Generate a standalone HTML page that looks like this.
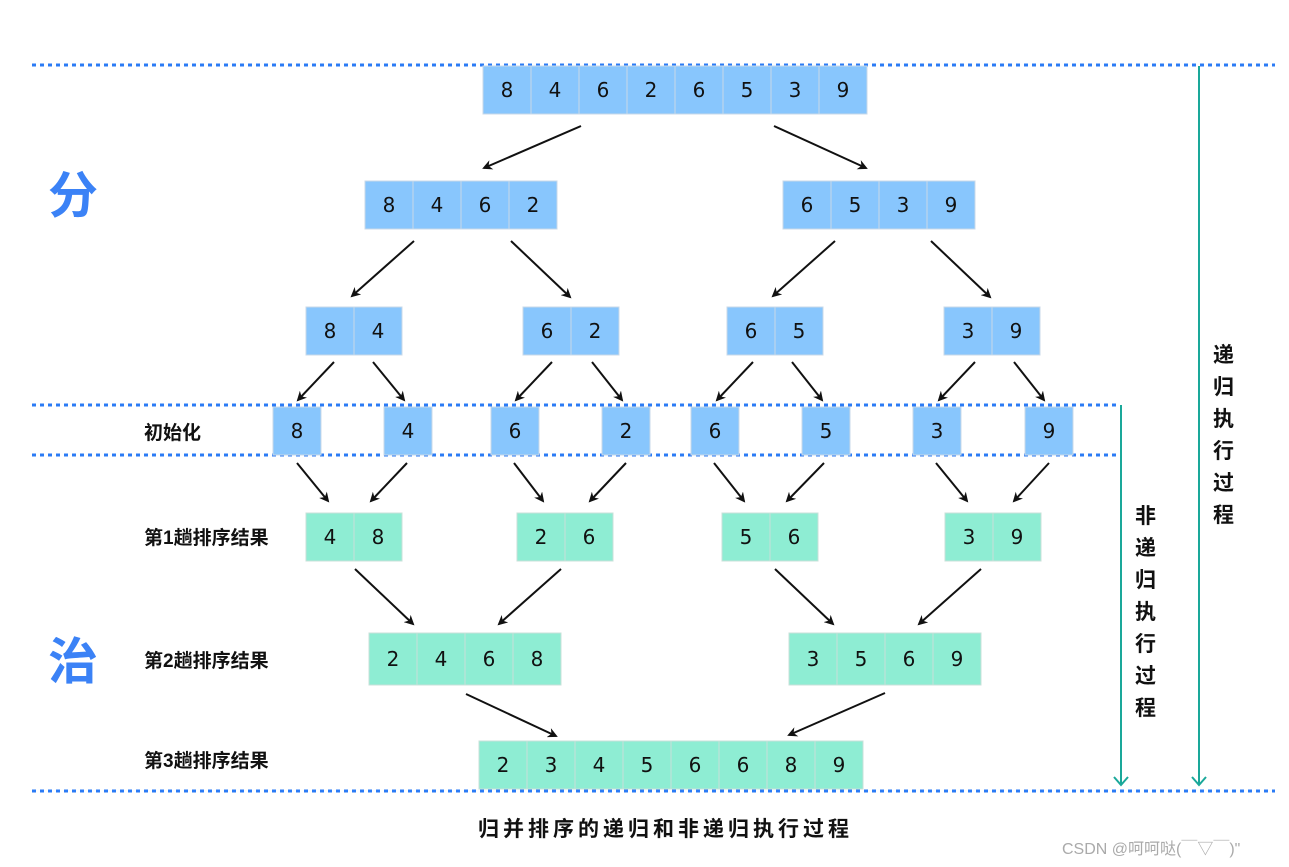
<!DOCTYPE html>
<html><head><meta charset="utf-8"><style>
html,body{margin:0;padding:0;background:#fff;}
svg{display:block;}
.n{font-family:"DejaVu Sans","Liberation Sans",sans-serif;font-size:20px;fill:#111;text-anchor:middle;dominant-baseline:central;}
.l{font-family:"Liberation Sans","Noto Sans CJK SC",sans-serif;font-size:19px;font-weight:bold;fill:#111;}
.c{font-family:"Noto Sans CJK SC",sans-serif;fill:#111;}
.b{fill:#88c6fd;stroke:#c8d8e8;stroke-width:1;}
.g{fill:#8eedd3;stroke:#c8e0d8;stroke-width:1;}
.d{stroke:#2b7bf5;stroke-width:3;stroke-dasharray:4 4;fill:none;}
.a{stroke:#111;stroke-width:2;fill:none;marker-end:url(#ar);}
.t{stroke:#1aa89a;stroke-width:2;fill:none;}
</style></head><body>
<svg width="1289" height="867" viewBox="0 0 1289 867" xmlns="http://www.w3.org/2000/svg">
<defs><marker id="ar" markerWidth="10" markerHeight="10" refX="8" refY="5" orient="auto" markerUnits="userSpaceOnUse" viewBox="0 0 10 10"><path d="M0,0 L10,5 L0,10 L3,5 Z" fill="#111"/></marker></defs>

<line class="d" x1="32" y1="65" x2="1275" y2="65"/>
<line class="d" x1="32" y1="405" x2="1120" y2="405"/>
<line class="d" x1="32" y1="455" x2="1120" y2="455"/>
<line class="d" x1="32" y1="791" x2="1275" y2="791"/>

<!-- teal arrows -->
<line class="t" x1="1121" y1="405" x2="1121" y2="785"/>
<path class="t" d="M1114,777 L1121,785 L1128,777"/>
<line class="t" x1="1199" y1="66" x2="1199" y2="785"/>
<path class="t" d="M1192,777 L1199,785 L1206,777"/>

<!-- row 1 -->
<g>
<rect class="b" x="483" y="66" width="48" height="48"/><text class="n" x="507" y="90">8</text>
<rect class="b" x="531" y="66" width="48" height="48"/><text class="n" x="555" y="90">4</text>
<rect class="b" x="579" y="66" width="48" height="48"/><text class="n" x="603" y="90">6</text>
<rect class="b" x="627" y="66" width="48" height="48"/><text class="n" x="651" y="90">2</text>
<rect class="b" x="675" y="66" width="48" height="48"/><text class="n" x="699" y="90">6</text>
<rect class="b" x="723" y="66" width="48" height="48"/><text class="n" x="747" y="90">5</text>
<rect class="b" x="771" y="66" width="48" height="48"/><text class="n" x="795" y="90">3</text>
<rect class="b" x="819" y="66" width="48" height="48"/><text class="n" x="843" y="90">9</text>
</g>
<!-- row 2 -->
<rect class="b" x="365" y="181" width="48" height="48"/><text class="n" x="389" y="205">8</text>
<rect class="b" x="413" y="181" width="48" height="48"/><text class="n" x="437" y="205">4</text>
<rect class="b" x="461" y="181" width="48" height="48"/><text class="n" x="485" y="205">6</text>
<rect class="b" x="509" y="181" width="48" height="48"/><text class="n" x="533" y="205">2</text>
<rect class="b" x="783" y="181" width="48" height="48"/><text class="n" x="807" y="205">6</text>
<rect class="b" x="831" y="181" width="48" height="48"/><text class="n" x="855" y="205">5</text>
<rect class="b" x="879" y="181" width="48" height="48"/><text class="n" x="903" y="205">3</text>
<rect class="b" x="927" y="181" width="48" height="48"/><text class="n" x="951" y="205">9</text>
<!-- row 3 -->
<rect class="b" x="306" y="307" width="48" height="48"/><text class="n" x="330" y="331">8</text>
<rect class="b" x="354" y="307" width="48" height="48"/><text class="n" x="378" y="331">4</text>
<rect class="b" x="523" y="307" width="48" height="48"/><text class="n" x="547" y="331">6</text>
<rect class="b" x="571" y="307" width="48" height="48"/><text class="n" x="595" y="331">2</text>
<rect class="b" x="727" y="307" width="48" height="48"/><text class="n" x="751" y="331">6</text>
<rect class="b" x="775" y="307" width="48" height="48"/><text class="n" x="799" y="331">5</text>
<rect class="b" x="944" y="307" width="48" height="48"/><text class="n" x="968" y="331">3</text>
<rect class="b" x="992" y="307" width="48" height="48"/><text class="n" x="1016" y="331">9</text>
<!-- init -->
<rect class="b" x="273" y="407" width="48" height="48"/><text class="n" x="297" y="431">8</text>
<rect class="b" x="384" y="407" width="48" height="48"/><text class="n" x="408" y="431">4</text>
<rect class="b" x="491" y="407" width="48" height="48"/><text class="n" x="515" y="431">6</text>
<rect class="b" x="602" y="407" width="48" height="48"/><text class="n" x="626" y="431">2</text>
<rect class="b" x="691" y="407" width="48" height="48"/><text class="n" x="715" y="431">6</text>
<rect class="b" x="802" y="407" width="48" height="48"/><text class="n" x="826" y="431">5</text>
<rect class="b" x="913" y="407" width="48" height="48"/><text class="n" x="937" y="431">3</text>
<rect class="b" x="1025" y="407" width="48" height="48"/><text class="n" x="1049" y="431">9</text>
<!-- sorted 1 -->
<rect class="g" x="306" y="513" width="48" height="48"/><text class="n" x="330" y="537">4</text>
<rect class="g" x="354" y="513" width="48" height="48"/><text class="n" x="378" y="537">8</text>
<rect class="g" x="517" y="513" width="48" height="48"/><text class="n" x="541" y="537">2</text>
<rect class="g" x="565" y="513" width="48" height="48"/><text class="n" x="589" y="537">6</text>
<rect class="g" x="722" y="513" width="48" height="48"/><text class="n" x="746" y="537">5</text>
<rect class="g" x="770" y="513" width="48" height="48"/><text class="n" x="794" y="537">6</text>
<rect class="g" x="945" y="513" width="48" height="48"/><text class="n" x="969" y="537">3</text>
<rect class="g" x="993" y="513" width="48" height="48"/><text class="n" x="1017" y="537">9</text>
<!-- sorted 2 -->
<rect class="g" x="369" y="633" width="48" height="52"/><text class="n" x="393" y="659">2</text>
<rect class="g" x="417" y="633" width="48" height="52"/><text class="n" x="441" y="659">4</text>
<rect class="g" x="465" y="633" width="48" height="52"/><text class="n" x="489" y="659">6</text>
<rect class="g" x="513" y="633" width="48" height="52"/><text class="n" x="537" y="659">8</text>
<rect class="g" x="789" y="633" width="48" height="52"/><text class="n" x="813" y="659">3</text>
<rect class="g" x="837" y="633" width="48" height="52"/><text class="n" x="861" y="659">5</text>
<rect class="g" x="885" y="633" width="48" height="52"/><text class="n" x="909" y="659">6</text>
<rect class="g" x="933" y="633" width="48" height="52"/><text class="n" x="957" y="659">9</text>
<!-- sorted 3 -->
<rect class="g" x="479" y="741" width="48" height="48"/><text class="n" x="503" y="765">2</text>
<rect class="g" x="527" y="741" width="48" height="48"/><text class="n" x="551" y="765">3</text>
<rect class="g" x="575" y="741" width="48" height="48"/><text class="n" x="599" y="765">4</text>
<rect class="g" x="623" y="741" width="48" height="48"/><text class="n" x="647" y="765">5</text>
<rect class="g" x="671" y="741" width="48" height="48"/><text class="n" x="695" y="765">6</text>
<rect class="g" x="719" y="741" width="48" height="48"/><text class="n" x="743" y="765">6</text>
<rect class="g" x="767" y="741" width="48" height="48"/><text class="n" x="791" y="765">8</text>
<rect class="g" x="815" y="741" width="48" height="48"/><text class="n" x="839" y="765">9</text>

<!-- arrows -->
<line class="a" x1="581" y1="126" x2="484" y2="168"/>
<line class="a" x1="774" y1="126" x2="866" y2="168"/>
<line class="a" x1="414" y1="241" x2="352" y2="296"/>
<line class="a" x1="511" y1="241" x2="570" y2="297"/>
<line class="a" x1="835" y1="241" x2="773" y2="296"/>
<line class="a" x1="931" y1="241" x2="990" y2="297"/>
<line class="a" x1="334" y1="362" x2="298" y2="400"/>
<line class="a" x1="373" y1="362" x2="404" y2="400"/>
<line class="a" x1="552" y1="362" x2="516" y2="400"/>
<line class="a" x1="592" y1="362" x2="622" y2="400"/>
<line class="a" x1="753" y1="362" x2="717" y2="400"/>
<line class="a" x1="792" y1="362" x2="822" y2="400"/>
<line class="a" x1="975" y1="362" x2="939" y2="400"/>
<line class="a" x1="1014" y1="362" x2="1044" y2="400"/>
<line class="a" x1="297" y1="463" x2="328" y2="501"/>
<line class="a" x1="407" y1="463" x2="371" y2="501"/>
<line class="a" x1="514" y1="463" x2="543" y2="501"/>
<line class="a" x1="626" y1="463" x2="590" y2="501"/>
<line class="a" x1="714" y1="463" x2="744" y2="501"/>
<line class="a" x1="824" y1="463" x2="787" y2="501"/>
<line class="a" x1="936" y1="463" x2="967" y2="501"/>
<line class="a" x1="1049" y1="463" x2="1014" y2="501"/>
<line class="a" x1="355" y1="569" x2="413" y2="624"/>
<line class="a" x1="561" y1="569" x2="499" y2="624"/>
<line class="a" x1="775" y1="569" x2="833" y2="624"/>
<line class="a" x1="981" y1="569" x2="919" y2="624"/>
<line class="a" x1="466" y1="694" x2="556" y2="736"/>
<line class="a" x1="885" y1="693" x2="789" y2="735"/>

<!-- labels -->
<text class="l" x="144" y="439">初始化</text>
<text class="l" x="144" y="544">第1趟排序结果</text>
<text class="l" x="144" y="667">第2趟排序结果</text>
<text class="l" x="144" y="767">第3趟排序结果</text>

<text class="c" x="48" y="213" font-size="50" fill="#3b82f6" style="fill:#3b82f6;font-weight:bold">分</text>
<text class="c" x="48" y="679" font-size="50" style="fill:#3b82f6;font-weight:bold">治</text>

<g class="c" font-size="21" font-weight="bold">
<text x="1213" y="362">递</text><text x="1213" y="394">归</text><text x="1213" y="426">执</text><text x="1213" y="458">行</text><text x="1213" y="490">过</text><text x="1213" y="522">程</text>
<text x="1135" y="523">非</text><text x="1135" y="555">递</text><text x="1135" y="587">归</text><text x="1135" y="619">执</text><text x="1135" y="651">行</text><text x="1135" y="683">过</text><text x="1135" y="715">程</text>
</g>
<text class="c" x="478" y="836" font-size="21" font-weight="bold" letter-spacing="4">归并排序的递归和非递归执行过程</text>
<text x="1062" y="854" font-family="Liberation Sans, Noto Sans CJK SC, sans-serif" font-size="16" fill="#aaa">CSDN @呵呵哒(￣▽￣)"</text>
</svg>
</body></html>
